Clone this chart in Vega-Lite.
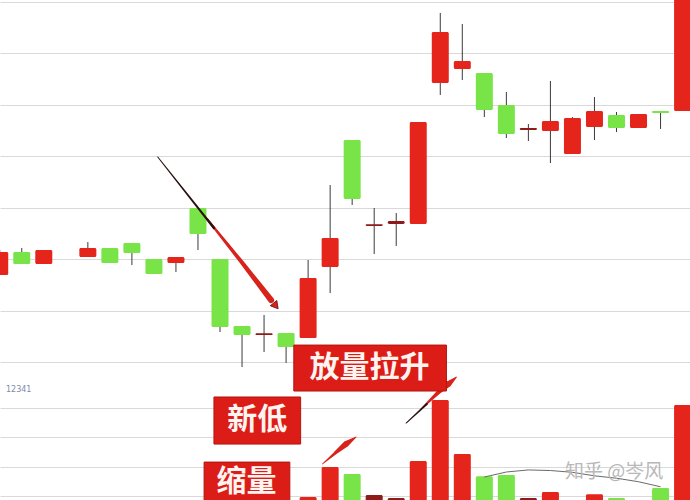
{
  "$schema": "https://vega.github.io/schema/vega-lite/v6.json",
  "width": 690,
  "height": 500,
  "autosize": {"type": "fit", "contains": "padding"},
  "padding": 0,
  "background": "white",
  "config": {"view": {"stroke": null}, "axis": {"minExtent": 0, "maxExtent": 0}},
  "datasets": {
    "candles": [
      {"k": 0, "o": 9.849, "h": 10.092, "l": 9.849, "c": 10.072, "t": "up", "v": 0.7},
      {"k": 1, "o": 10.072, "h": 10.111, "l": 9.956, "c": 9.956, "t": "down", "v": 0.6},
      {"k": 2, "o": 9.956, "h": 10.092, "l": 9.956, "c": 10.092, "t": "up", "v": 0.65},
      {"k": 4, "o": 10.024, "h": 10.169, "l": 10.024, "c": 10.111, "t": "up", "v": 0.6},
      {"k": 5, "o": 10.111, "h": 10.111, "l": 9.966, "c": 9.966, "t": "down", "v": 0.55},
      {"k": 6, "o": 10.16, "h": 10.16, "l": 9.946, "c": 10.063, "t": "down", "v": 0.6},
      {"k": 7, "o": 10.004, "h": 10.004, "l": 9.859, "c": 9.859, "t": "down", "v": 0.5},
      {"k": 8, "o": 9.966, "h": 10.024, "l": 9.878, "c": 10.024, "t": "up", "v": 0.55},
      {"k": 9, "o": 10.5, "h": 10.5, "l": 10.092, "c": 10.247, "t": "down", "v": 0.7},
      {"k": 10, "o": 10.004, "h": 10.004, "l": 9.296, "c": 9.344, "t": "down", "v": 0.8},
      {"k": 11, "o": 9.354, "h": 9.354, "l": 8.956, "c": 9.267, "t": "down", "v": 0.6},
      {"k": 12, "o": 9.266, "h": 9.461, "l": 9.101, "c": 9.284, "t": "doji", "v": 0.5},
      {"k": 13, "o": 9.286, "h": 9.286, "l": 8.995, "c": 9.15, "t": "down", "v": 0.85},
      {"k": 14, "o": 9.237, "h": 9.995, "l": 9.237, "c": 9.82, "t": "up", "v": 0.98},
      {"k": 15, "o": 9.927, "h": 10.723, "l": 9.674, "c": 10.208, "t": "up", "v": 2.0},
      {"k": 16, "o": 11.16, "h": 11.16, "l": 10.529, "c": 10.587, "t": "down", "v": 1.76},
      {"k": 17, "o": 10.325, "h": 10.5, "l": 10.053, "c": 10.343, "t": "doji", "v": 1.05},
      {"k": 18, "o": 10.344, "h": 10.451, "l": 10.131, "c": 10.373, "t": "doji", "v": 0.95},
      {"k": 19, "o": 10.344, "h": 11.334, "l": 10.344, "c": 11.334, "t": "up", "v": 2.2},
      {"k": 20, "o": 11.713, "h": 12.393, "l": 11.597, "c": 12.208, "t": "up", "v": 4.27},
      {"k": 21, "o": 11.849, "h": 12.286, "l": 11.742, "c": 11.927, "t": "up", "v": 2.44},
      {"k": 22, "o": 11.81, "h": 11.81, "l": 11.383, "c": 11.451, "t": "down", "v": 1.69},
      {"k": 23, "o": 11.5, "h": 11.626, "l": 11.179, "c": 11.218, "t": "down", "v": 1.73},
      {"k": 24, "o": 11.258, "h": 11.315, "l": 11.15, "c": 11.276, "t": "doji", "v": 0.95},
      {"k": 25, "o": 11.247, "h": 11.733, "l": 10.936, "c": 11.344, "t": "up", "v": 1.15},
      {"k": 26, "o": 11.024, "h": 11.383, "l": 11.024, "c": 11.373, "t": "up", "v": 0.8},
      {"k": 27, "o": 11.286, "h": 11.577, "l": 11.16, "c": 11.441, "t": "up", "v": 1.08},
      {"k": 28, "o": 11.402, "h": 11.432, "l": 11.237, "c": 11.276, "t": "down", "v": 0.95},
      {"k": 29, "o": 11.276, "h": 11.412, "l": 11.276, "c": 11.412, "t": "up", "v": 0.8},
      {"k": 30, "o": 11.441, "h": 11.441, "l": 11.267, "c": 11.421, "t": "down", "v": 1.29},
      {"k": 31, "o": 11.441, "h": 12.7, "l": 11.441, "c": 12.7, "t": "up", "v": 4.1}
    ],
    "volma": [
      {"k": 22, "m": 1.66}, {"k": 23, "m": 1.83}, {"k": 24, "m": 1.9}, {"k": 25, "m": 1.88},
      {"k": 26, "m": 1.82}, {"k": 27, "m": 1.7}, {"k": 28, "m": 1.62}, {"k": 29, "m": 1.5}, {"k": 30, "m": 1.33}
    ],
    "boxes": [
      {"label": "放量拉升", "k1": 13.35, "k2": 20.28, "p1": 9.169, "p2": 8.723, "kc": 16.79, "pc": 8.946},
      {"label": "新低", "k1": 9.725, "k2": 13.66, "p1": 8.665, "p2": 8.208, "kc": 11.69, "pc": 8.441},
      {"label": "缩量", "k1": 9.277, "k2": 13.17, "p1": 8.033, "p2": 7.6, "kc": 11.2, "pc": 7.835}
    ],
    "arrows": [
      {"id": "a1", "part": "dark", "i": 0, "k": 7.174, "p": 10.995, "w": 1},
      {"id": "a1", "part": "dark", "i": 1, "k": 9.725, "p": 10.305, "w": 2.5},
      {"id": "a2", "part": "red", "i": 0, "k": 9.412, "p": 10.393, "w": 2},
      {"id": "a2", "part": "red", "i": 1, "k": 10.98, "p": 9.975, "w": 4},
      {"id": "a2", "part": "red", "i": 2, "k": 12.32, "p": 9.606, "w": 6},
      {"id": "a3", "part": "red", "i": 0, "k": 14.65, "p": 8.014, "w": 0.8},
      {"id": "a3", "part": "red", "i": 1, "k": 15.23, "p": 8.121, "w": 3},
      {"id": "a3", "part": "red", "i": 2, "k": 15.72, "p": 8.208, "w": 6},
      {"id": "a3", "part": "red", "i": 3, "k": 16.17, "p": 8.276, "w": 1},
      {"id": "a4", "part": "dark", "i": 0, "k": 18.45, "p": 8.412, "w": 1},
      {"id": "a4", "part": "dark", "i": 1, "k": 19.39, "p": 8.597, "w": 2},
      {"id": "a5", "part": "red", "i": 0, "k": 19.12, "p": 8.548, "w": 1},
      {"id": "a5", "part": "red", "i": 1, "k": 19.93, "p": 8.713, "w": 4},
      {"id": "a5", "part": "red", "i": 2, "k": 20.37, "p": 8.791, "w": 6},
      {"id": "a5", "part": "red", "i": 3, "k": 20.73, "p": 8.859, "w": 1}
    ],
    "heads": [{"k": 12.5, "p": 9.558}],
    "notes": [
      {"text": "知乎 @岑风", "k": 27.89, "p": 7.936, "kind": "wm"},
      {"text": "12341", "k": 0.284, "p": 8.732, "kind": "small"}
    ]
  },
  "layer": [
    {
      "layer": [
        {
          "data": {"name": "candles"},
          "mark": {"type": "bar", "size": 17, "clip": true, "cornerRadius": 1.5},
          "encoding": {
            "x": {"field": "k", "type": "quantitative", "scale": {"domain": [0.239, 31.11], "nice": false, "zero": false}, "axis": null},
            "y": {"field": "v", "type": "quantitative", "scale": {"domain": [0.881, 17.83], "nice": false, "zero": false},
                  "axis": {"orient": "right", "title": null, "labels": false, "ticks": false, "domain": false, "grid": true, "values": [1, 2, 3, 4], "gridColor": "#d9d9d9", "gridWidth": 1}},
            "y2": {"datum": 0},
            "color": {"field": "t", "type": "nominal", "scale": {"domain": ["up", "down", "doji"], "range": ["#e5241c", "#78e448", "#8e1a1a"]}, "legend": null}
          }
        },
        {
          "data": {"name": "volma"},
          "mark": {"type": "line", "color": "#6a6a6a", "strokeWidth": 1, "clip": true},
          "encoding": {
            "x": {"field": "k", "type": "quantitative", "scale": {"domain": [0.239, 31.11], "nice": false, "zero": false}},
            "y": {"field": "m", "type": "quantitative", "scale": {"domain": [0.881, 17.83], "nice": false, "zero": false}}
          }
        }
      ]
    },
    {
      "layer": [
        {
          "data": {"name": "candles"},
          "mark": {"type": "rule", "color": "#3a3a3a", "strokeWidth": 1, "clip": true},
          "encoding": {
            "x": {"field": "k", "type": "quantitative", "scale": {"domain": [0.239, 31.11], "nice": false, "zero": false}, "axis": null},
            "y": {"field": "l", "type": "quantitative", "scale": {"domain": [7.665, 12.519], "nice": false, "zero": false},
                  "axis": {"orient": "left", "title": null, "labels": false, "ticks": false, "domain": false, "grid": true, "values": [9, 9.5, 10, 10.5, 11, 11.5, 12, 12.5], "gridColor": "#d9d9d9", "gridWidth": 1}},
            "y2": {"field": "h"}
          }
        },
        {
          "data": {"name": "candles"},
          "mark": {"type": "bar", "size": 17, "clip": true, "cornerRadius": 1.5},
          "encoding": {
            "x": {"field": "k", "type": "quantitative", "scale": {"domain": [0.239, 31.11], "nice": false, "zero": false}},
            "y": {"field": "o", "type": "quantitative", "scale": {"domain": [7.665, 12.519], "nice": false, "zero": false}},
            "y2": {"field": "c"},
            "color": {"field": "t", "type": "nominal", "scale": {"domain": ["up", "down", "doji"], "range": ["#e5241c", "#78e448", "#8e1a1a"]}, "legend": null}
          }
        },
        {
          "mark": {"type": "rule", "color": "#7a7a7a", "strokeWidth": 1.5},
          "encoding": {
            "y": {"datum": 8.782, "type": "quantitative", "scale": {"domain": [7.665, 12.519], "nice": false, "zero": false}}
          }
        },
        {
          "data": {"name": "arrows"},
          "transform": [{"filter": "datum.part == 'red'"}],
          "mark": {"type": "trail", "clip": true, "color": "#d8231c"},
          "encoding": {
            "x": {"field": "k", "type": "quantitative", "scale": {"domain": [0.239, 31.11], "nice": false, "zero": false}},
            "y": {"field": "p", "type": "quantitative", "scale": {"domain": [7.665, 12.519], "nice": false, "zero": false}},
            "size": {"field": "w", "type": "quantitative", "scale": null},
            "detail": {"field": "id"},
            "order": {"field": "i", "type": "quantitative"}
          }
        },
        {
          "data": {"name": "arrows"},
          "transform": [{"filter": "datum.part == 'dark'"}],
          "mark": {"type": "trail", "clip": true, "color": "#2a1010"},
          "encoding": {
            "x": {"field": "k", "type": "quantitative", "scale": {"domain": [0.239, 31.11], "nice": false, "zero": false}},
            "y": {"field": "p", "type": "quantitative", "scale": {"domain": [7.665, 12.519], "nice": false, "zero": false}},
            "size": {"field": "w", "type": "quantitative", "scale": null},
            "detail": {"field": "id"},
            "order": {"field": "i", "type": "quantitative"}
          }
        },
        {
          "data": {"name": "heads"},
          "mark": {"type": "point", "shape": "triangle", "angle": 141, "size": 70, "filled": true, "color": "#d8231c", "stroke": "#6a1010", "strokeWidth": 0.8, "opacity": 1},
          "encoding": {
            "x": {"field": "k", "type": "quantitative", "scale": {"domain": [0.239, 31.11], "nice": false, "zero": false}},
            "y": {"field": "p", "type": "quantitative", "scale": {"domain": [7.665, 12.519], "nice": false, "zero": false}}
          }
        },
        {
          "data": {"name": "boxes"},
          "mark": {"type": "rect", "fill": "#dc1d17", "stroke": "#b3140f", "strokeWidth": 1, "clip": true},
          "encoding": {
            "x": {"field": "k1", "type": "quantitative", "scale": {"domain": [0.239, 31.11], "nice": false, "zero": false}},
            "x2": {"field": "k2"},
            "y": {"field": "p1", "type": "quantitative", "scale": {"domain": [7.665, 12.519], "nice": false, "zero": false}},
            "y2": {"field": "p2"}
          }
        },
        {
          "data": {"name": "boxes"},
          "mark": {"type": "text", "font": "Noto Sans CJK SC", "fontSize": 30, "fontWeight": "bold", "color": "#fff4f0", "align": "center", "baseline": "middle", "clip": true},
          "encoding": {
            "x": {"field": "kc", "type": "quantitative", "scale": {"domain": [0.239, 31.11], "nice": false, "zero": false}},
            "y": {"field": "pc", "type": "quantitative", "scale": {"domain": [7.665, 12.519], "nice": false, "zero": false}},
            "text": {"field": "label"}
          }
        },
        {
          "data": {"name": "notes"},
          "transform": [{"filter": "datum.kind == 'wm'"}],
          "mark": {"type": "text", "font": "Noto Sans CJK SC", "fontSize": 19, "color": "#b8b8b8", "align": "center", "baseline": "middle"},
          "encoding": {
            "x": {"field": "k", "type": "quantitative", "scale": {"domain": [0.239, 31.11], "nice": false, "zero": false}},
            "y": {"field": "p", "type": "quantitative", "scale": {"domain": [7.665, 12.519], "nice": false, "zero": false}},
            "text": {"field": "text"}
          }
        },
        {
          "data": {"name": "notes"},
          "transform": [{"filter": "datum.kind == 'small'"}],
          "mark": {"type": "text", "font": "DejaVu Sans", "fontSize": 8, "color": "#7d8aa8", "align": "left", "baseline": "middle"},
          "encoding": {
            "x": {"field": "k", "type": "quantitative", "scale": {"domain": [0.239, 31.11], "nice": false, "zero": false}},
            "y": {"field": "p", "type": "quantitative", "scale": {"domain": [7.665, 12.519], "nice": false, "zero": false}},
            "text": {"field": "text"}
          }
        }
      ]
    }
  ],
  "resolve": {"scale": {"y": "independent"}, "axis": {"y": "independent"}}
}
